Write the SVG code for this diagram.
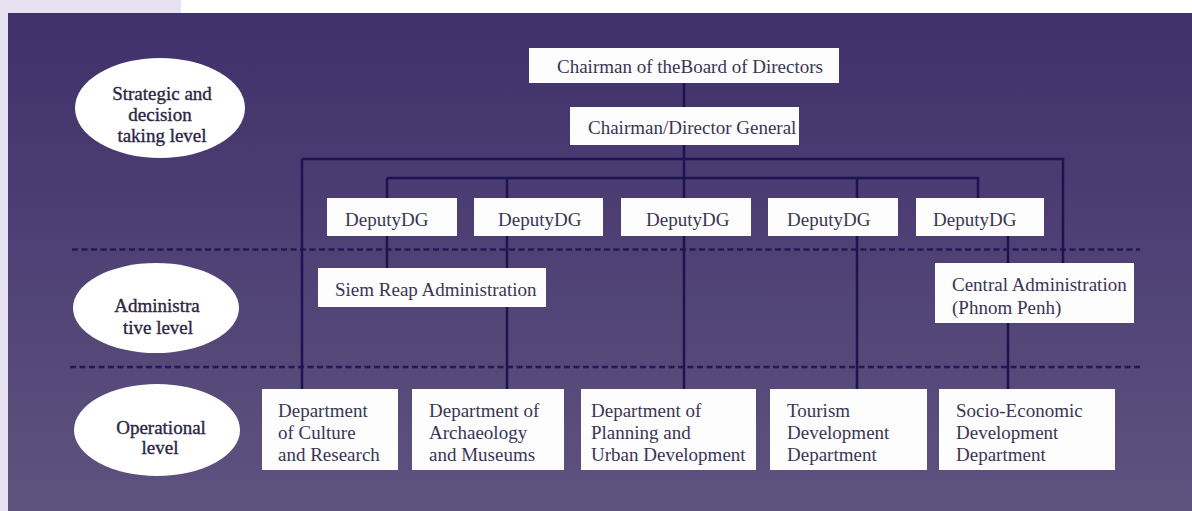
<svg xmlns="http://www.w3.org/2000/svg" width="1192" height="511" viewBox="0 0 1192 511">
<defs>
<linearGradient id="bg" x1="0" y1="0" x2="0" y2="1">
<stop offset="0" stop-color="#40306b"/>
<stop offset="1" stop-color="#5e537f"/>
</linearGradient>
</defs>
<style>
.box{fill:#fdfdfe;}
.ell{fill:#ffffff;}
.t{font-family:"Liberation Serif","Times New Roman",serif;font-size:19px;fill:#3a3553;}
.et{font-family:"Liberation Serif","Times New Roman",serif;font-size:19px;fill:#2b2643;stroke:#2b2643;stroke-width:0.35;text-anchor:middle;}
.ln{stroke:#1e134f;stroke-width:2.5;fill:none;}
.dash{stroke:#23185a;stroke-width:2.5;stroke-dasharray:6 3.5;fill:none;}
</style>
<rect x="0" y="0" width="1192" height="511" fill="#ffffff"/>
<rect x="0" y="0" width="181" height="14" fill="#e6e2f1"/>
<rect x="0" y="0" width="8" height="511" fill="#e6e2f1"/>
<rect x="8" y="13" width="1184" height="498" fill="url(#bg)"/>

<g id="connectors">
<path class="dash" d="M72 249.5 H1140"/>
<path class="dash" d="M70 367 H1140"/>
<path class="ln" d="M684 83 V389"/>
<path class="ln" d="M302 159 H1063 V263"/>
<path class="ln" d="M302 159 V389"/>
<path class="ln" d="M387 178 H978 V198"/>
<path class="ln" d="M387 178 V268"/>
<path class="ln" d="M507 178 V389"/>
<path class="ln" d="M857 178 V389"/>
<path class="ln" d="M1008 236 V389"/>
</g>

<g id="level-strategic">
<ellipse class="ell" cx="160" cy="108" rx="85" ry="50"/>
<text class="et" x="162" y="100">Strategic and</text>
<text class="et" x="160" y="121">decision</text>
<text class="et" x="162" y="142">taking level</text>
</g>
<g id="level-admin">
<ellipse class="ell" cx="156" cy="308" rx="83" ry="45"/>
<text class="et" x="157" y="312">Administra</text>
<text class="et" x="158" y="334">tive level</text>
</g>
<g id="level-operational">
<ellipse class="ell" cx="157" cy="430" rx="83" ry="46"/>
<text class="et" x="161" y="434">Operational</text>
<text class="et" x="160" y="454">level</text>
</g>

<g id="chairman-board">
<rect class="box" x="529" y="48" width="310" height="35"/>
<text class="t" x="557" y="73">Chairman of theBoard of Directors</text>
</g>
<g id="chairman-dg">
<rect class="box" x="570" y="107" width="229" height="38"/>
<text class="t" x="588" y="134">Chairman/Director General</text>
</g>

<g id="deputy1">
<rect class="box" x="327" y="198" width="130" height="38"/>
<text class="t" x="345" y="226">DeputyDG</text>
</g>
<g id="deputy2">
<rect class="box" x="474" y="198" width="129" height="38"/>
<text class="t" x="498" y="226">DeputyDG</text>
</g>
<g id="deputy3">
<rect class="box" x="621" y="198" width="130" height="38"/>
<text class="t" x="646" y="226">DeputyDG</text>
</g>
<g id="deputy4">
<rect class="box" x="768" y="198" width="130" height="38"/>
<text class="t" x="787" y="226">DeputyDG</text>
</g>
<g id="deputy5">
<rect class="box" x="916" y="198" width="128" height="38"/>
<text class="t" x="933" y="226">DeputyDG</text>
</g>

<g id="siem-reap">
<rect class="box" x="318" y="268" width="228" height="39"/>
<text class="t" x="335" y="296">Siem Reap Administration</text>
</g>
<g id="central-admin">
<rect class="box" x="935" y="263" width="199" height="60"/>
<text class="t" x="952" y="291">Central Administration</text>
<text class="t" x="952" y="314">(Phnom Penh)</text>
</g>

<g id="dept-culture">
<rect class="box" x="262" y="389" width="136" height="81"/>
<text class="t" x="278" y="417">Department</text>
<text class="t" x="278" y="439">of Culture</text>
<text class="t" x="278" y="461">and Research</text>
</g>
<g id="dept-archaeology">
<rect class="box" x="412" y="389" width="152" height="81"/>
<text class="t" x="429" y="417">Department of</text>
<text class="t" x="429" y="439">Archaeology</text>
<text class="t" x="429" y="461">and Museums</text>
</g>
<g id="dept-planning">
<rect class="box" x="581" y="389" width="175" height="81"/>
<text class="t" x="591" y="417">Department of</text>
<text class="t" x="591" y="439">Planning and</text>
<text class="t" x="591" y="461">Urban Development</text>
</g>
<g id="dept-tourism">
<rect class="box" x="770" y="389" width="157" height="81"/>
<text class="t" x="787" y="417">Tourism</text>
<text class="t" x="787" y="439">Development</text>
<text class="t" x="787" y="461">Department</text>
</g>
<g id="dept-socio">
<rect class="box" x="939" y="389" width="176" height="81"/>
<text class="t" x="956" y="417">Socio-Economic</text>
<text class="t" x="956" y="439">Development</text>
<text class="t" x="956" y="461">Department</text>
</g>
</svg>
